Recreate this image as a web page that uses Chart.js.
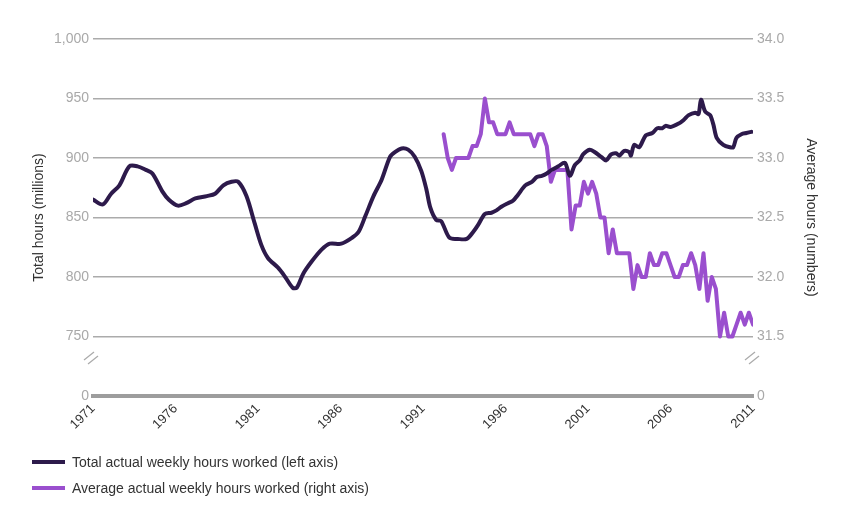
<!DOCTYPE html>
<html>
<head>
<meta charset="utf-8">
<script src="https://cdn.jsdelivr.net/npm/chart.js@4/dist/chart.umd.min.js"></script>
<style>
  body { margin: 0; background: #fff; }
  #wrap { position: relative; width: 850px; height: 525px; }
  #legend { position: absolute; left: 32px; top: 452px; font-family: "Liberation Sans", Arial, sans-serif; font-size: 14px; color: #333; }
  #legend .row { height: 20px; line-height: 20px; margin-bottom: 6px; white-space: nowrap; }
  #legend .mark { display: inline-block; width: 33px; height: 4px; vertical-align: middle; margin-right: 7px; position: relative; top: -1px; }
</style>
</head>
<body>
<div id="wrap">
  <canvas id="chart" width="850" height="525"></canvas>
  <div id="legend"></div>
</div>
<script>
// x tick labels
var yearTicks = [1971, 1976, 1981, 1986, 1991, 1996, 2001, 2006, 2011];

// total actual weekly hours worked (millions), left axis
var totalYears = [1971.0, 1971.6, 1972.1, 1972.6, 1973.2, 1973.7, 1974.2, 1974.6, 1975.2, 1975.6,
  1976.15, 1976.65, 1977.2, 1977.9, 1978.4, 1978.9, 1979.4, 1979.8, 1980.3, 1980.8,
  1981.2, 1981.6, 1982.2, 1982.6, 1983.1, 1983.35, 1983.75, 1984.25, 1984.85, 1985.35,
  1986.05, 1986.7, 1987.1, 1987.5, 1988.0, 1988.5, 1989.0, 1989.3, 1989.7, 1990.1,
  1990.5, 1990.9, 1991.2, 1991.45, 1991.8, 1992.1, 1992.6, 1993.1, 1993.65, 1994.05,
  1994.35, 1994.75, 1995.15, 1995.45, 1995.75, 1996.15, 1996.45, 1996.75, 1997.2, 1997.6,
  1997.9, 1998.2, 1998.5, 1998.8, 1999.2, 1999.6, 1999.9, 2000.2, 2000.5, 2000.7,
  2001.1, 2001.4, 2001.8, 2002.1, 2002.4, 2002.7, 2002.9, 2003.2, 2003.5, 2003.6,
  2003.8, 2004.1, 2004.5, 2004.9, 2005.2, 2005.5, 2005.7, 2006.0, 2006.5, 2006.8,
  2007.1, 2007.5, 2007.7, 2007.85, 2008.1, 2008.4, 2008.6, 2008.8, 2009.2, 2009.6,
  2009.8, 2010.0, 2010.3, 2010.6, 2010.9];
var totalHours = [865, 861, 870, 877, 893, 893, 890, 887, 872, 865,
  860, 862, 866, 868, 870, 877, 880, 880, 868, 845,
  827, 816, 808, 801, 791, 791, 803, 813, 823, 828,
  828, 833, 838, 851, 868, 882, 901, 905, 908, 907,
  901, 889, 874, 858, 848, 847, 833, 832, 832, 838,
  844, 853, 854, 856, 859, 862, 864, 869, 877, 880,
  884, 885, 887, 890, 893, 896, 885, 894, 898, 903,
  907, 905, 901, 898, 903, 904, 902, 906, 905, 902,
  911, 909, 919, 921, 925, 925, 927, 926, 929, 932,
  936, 938, 937, 949, 939, 936, 928, 917, 911, 909,
  909, 917, 920, 921, 922];

// average actual weekly hours worked, right axis, quarterly from 1992 Q2
var avgStart = 1992.25;
var avgHours = [33.2, 33.0, 32.9,
  33.0, 33.0, 33.0, 33.0,
  33.1, 33.1, 33.2, 33.5,
  33.3, 33.3, 33.2, 33.2,
  33.2, 33.3, 33.2, 33.2,
  33.2, 33.2, 33.2, 33.1,
  33.2, 33.2, 33.1, 32.8,
  32.9, 32.9, 32.9, 32.9,
  32.4, 32.6, 32.6, 32.8,
  32.7, 32.8, 32.7, 32.5,
  32.5, 32.2, 32.4, 32.2,
  32.2, 32.2, 32.2, 31.9,
  32.1, 32.0, 32.0, 32.2,
  32.1, 32.1, 32.2, 32.2,
  32.1, 32.0, 32.0, 32.1,
  32.1, 32.2, 32.1, 31.9,
  32.2, 31.8, 32.0, 31.9,
  31.5, 31.7, 31.5, 31.5,
  31.6, 31.7, 31.6, 31.7,
  31.6];

var darkColor = "#2d1a4b";
var purpleColor = "#9a4fce";
var fontFamily = "'Liberation Sans', Arial, sans-serif";

var totalPoints = totalYears.map(function(x, i) { return {x: x, y: totalHours[i]}; });
var avgPoints = avgHours.map(function(v, i) { return {x: avgStart + i * 0.25, y: v}; });

// the "//" marks showing the broken axes
var breakMarks = {
  id: "breakMarks",
  afterDraw: function(chart) {
    var ctx = chart.ctx;
    var area = chart.chartArea;
    var y = chart.scales.yL.getPixelForValue(732);
    [area.left - 2, area.right - 1].forEach(function(cx) {
      ctx.save();
      ctx.strokeStyle = "#aaaaaa";
      ctx.lineWidth = 1.3;
      [-2, 2].forEach(function(d) {
        ctx.beginPath();
        ctx.moveTo(cx - 5 + d, y + 4 + d);
        ctx.lineTo(cx + 5 + d, y - 4 + d);
        ctx.stroke();
      });
      ctx.restore();
    });
  }
};

Chart.defaults.font.family = fontFamily;

var chart = new Chart(document.getElementById("chart"), {
  type: "line",
  data: {
    datasets: [
      {
        label: "Total actual weekly hours worked (left axis)",
        data: totalPoints,
        yAxisID: "yL",
        borderColor: darkColor,
        backgroundColor: darkColor,
        borderWidth: 4,
        borderJoinStyle: "round",
        borderCapStyle: "round",
        pointRadius: 0,
        tension: 0.3,
        fill: false
      },
      {
        label: "Average actual weekly hours worked (right axis)",
        data: avgPoints,
        yAxisID: "yR",
        borderColor: purpleColor,
        backgroundColor: purpleColor,
        borderWidth: 4,
        borderJoinStyle: "round",
        borderCapStyle: "round",
        pointRadius: 0,
        tension: 0,
        fill: false
      }
    ]
  },
  options: {
    responsive: false,
    animation: false,
    layout: { padding: { left: 0, right: 0, top: 39, bottom: 0 } },
    plugins: {
      legend: { display: false },
      tooltip: { enabled: false }
    },
    scales: {
      x: {
        type: "linear",
        min: 1971,
        max: 2011,
        afterBuildTicks: function(s) {
          s.ticks = yearTicks.map(function(v) { return {value: v}; });
        },
        afterFit: function(s) { s.height = 129; },
        ticks: {
          autoSkip: false,
          minRotation: 45,
          maxRotation: 45,
          color: "#333333",
          font: { size: 13 },
          padding: 5,
          callback: function(v) { return String(v); }
        },
        grid: { display: false, drawTicks: false },
        border: { display: true, color: "#9d9d9d", width: 4 }
      },
      yL: {
        position: "left",
        min: 700,
        max: 1000,
        afterFit: function(s) { s.width = 93; },
        ticks: {
          stepSize: 50,
          color: "#a9a9a9",
          font: { size: 14 },
          padding: 4,
          callback: function(v) { return v === 700 ? "0" : v.toLocaleString("en-US"); }
        },
        grid: {
          drawTicks: false,
          lineWidth: 1.5,
          color: function(c) { return c.tick && c.tick.value === 700 ? "rgba(0,0,0,0)" : "#ababab"; }
        },
        border: { display: false },
        title: {
          display: true,
          text: "Total hours (millions)",
          color: "#333333",
          font: { size: 14 },
          padding: { top: 31, bottom: 0 }
        }
      },
      yR: {
        position: "right",
        min: 31,
        max: 34,
        afterFit: function(s) { s.width = 97; },
        ticks: {
          stepSize: 0.5,
          color: "#a9a9a9",
          font: { size: 14 },
          padding: 4,
          callback: function(v) { return v === 31 ? "0" : v.toFixed(1); }
        },
        grid: { display: false, drawTicks: false },
        border: { display: false },
        title: {
          display: true,
          text: "Average hours (numbers)",
          color: "#333333",
          font: { size: 14 },
          padding: { top: 31, bottom: 0 }
        }
      }
    }
  },
  plugins: [breakMarks]
});

// legend stacked under the chart, built from the datasets
var legendEl = document.getElementById("legend");
chart.data.datasets.forEach(function(ds) {
  var row = document.createElement("div");
  row.className = "row";
  var mark = document.createElement("span");
  mark.className = "mark";
  mark.style.background = ds.borderColor;
  row.appendChild(mark);
  row.appendChild(document.createTextNode(ds.label));
  legendEl.appendChild(row);
});
</script>
</body>
</html>
